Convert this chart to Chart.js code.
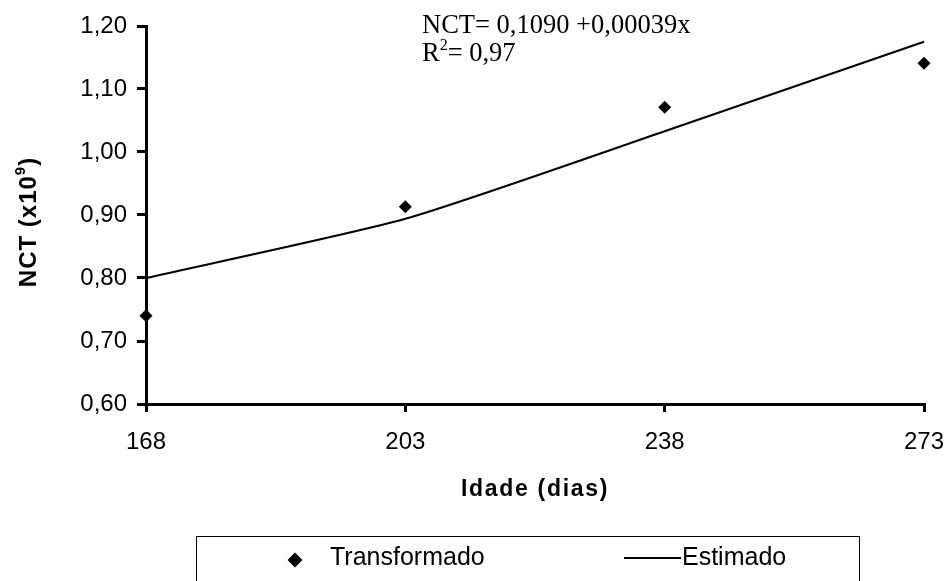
<!DOCTYPE html>
<html>
<head>
<meta charset="utf-8">
<script src="https://cdn.jsdelivr.net/npm/chart.js@4.4.1/dist/chart.umd.min.js"></script>
<style>
  html, body { margin: 0; padding: 0; background: #fff; }
</style>
</head>
<body>
<canvas id="grafico" width="950" height="581"></canvas>
<script>
// dados
var idade = ['168', '203', '238', '273'];
var transformado = [0.74, 0.913, 1.071, 1.141];
var estimado = [0.80, 0.894, 1.033, 1.175];
var yTicks = [0.6, 0.7, 0.8, 0.9, 1.0, 1.1, 1.2];

var sans = "Arial, 'Liberation Sans', sans-serif";
var serif = "'Times New Roman', 'Liberation Serif', serif";

function virgula(v) {
    return Number(v).toFixed(2).replace('.', ',');
}

// textos extras: equação, títulos dos eixos e legenda em caixa
var extras = {
    id: 'extras',
    afterDraw: function (chart) {
        var ctx = chart.ctx;
        ctx.save();
        ctx.fillStyle = '#000';
        ctx.strokeStyle = '#000';

        // equação
        ctx.textAlign = 'left';
        ctx.textBaseline = 'alphabetic';
        ctx.font = '26.5px ' + serif;
        ctx.fillText('NCT= 0,1090 +0,00039x', 422, 33);
        ctx.fillText('R', 422, 61);
        var wR = ctx.measureText('R').width;
        ctx.font = '16px ' + serif;
        ctx.fillText('2', 422 + wR, 50);
        var w2 = ctx.measureText('2').width;
        ctx.font = '26.5px ' + serif;
        ctx.fillText('= 0,97', 422 + wR + w2, 61);

        // título eixo y
        ctx.save();
        ctx.translate(29, 222);
        ctx.rotate(-Math.PI / 2);
        ctx.textBaseline = 'middle';
        ctx.letterSpacing = '1px';
        ctx.font = 'bold 24px ' + sans;
        var a = 'NCT (x10', b = '9', c = ')';
        var wa = ctx.measureText(a).width, wc = ctx.measureText(c).width;
        ctx.font = 'bold 15px ' + sans;
        var wb = ctx.measureText(b).width;
        var x0 = -(wa + wb + wc) / 2;
        ctx.font = 'bold 24px ' + sans;
        ctx.fillText(a, x0, 0);
        ctx.fillText(c, x0 + wa + wb, 0);
        ctx.font = 'bold 15px ' + sans;
        ctx.fillText(b, x0 + wa, -8);
        ctx.restore();

        // título eixo x
        ctx.font = 'bold 23px ' + sans;
        ctx.letterSpacing = '1.7px';
        ctx.textAlign = 'center';
        ctx.textBaseline = 'middle';
        ctx.fillText('Idade (dias)', 535, 490);
        ctx.letterSpacing = '0px';

        // legenda
        ctx.lineWidth = 1;
        ctx.strokeRect(196.5, 536.5, 663, 60);
        Chart.helpers.drawPoint(ctx, { pointStyle: 'rectRot', radius: 7.5, borderWidth: 0 }, 295, 560);
        ctx.textAlign = 'left';
        ctx.font = '25px ' + sans;
        ctx.fillText('Transformado', 330, 558);
        ctx.lineWidth = 2;
        ctx.beginPath();
        ctx.moveTo(624, 558);
        ctx.lineTo(681, 558);
        ctx.stroke();
        ctx.fillText('Estimado', 682, 558);
        ctx.restore();
    }
};

var graph = document.getElementById('grafico');
var myChart = new Chart(graph, {
    type: 'line',
    data: {
        labels: idade,
        datasets: [{
            label: 'Transformado',
            data: transformado,
            showLine: false,
            pointStyle: 'rectRot',
            pointRadius: 6.5,
            pointBackgroundColor: '#000',
            pointBorderWidth: 0,
            clip: false
        },
        {
            label: 'Estimado',
            data: estimado,
            borderColor: '#000',
            borderWidth: 2,
            pointRadius: 0,
            tension: 0.2,
            fill: false,
            clip: false
        }]
    },
    options: {
        responsive: false,
        animation: false,
        events: [],
        layout: { padding: { left: 0, top: 26, right: 26, bottom: 0 } },
        plugins: {
            legend: { display: false },
            tooltip: { enabled: false }
        },
        scales: {
            x: {
                type: 'category',
                offset: false,
                afterFit: function (s) {
                    s.height = 177;
                    s.paddingLeft = 0;
                    s.paddingRight = 0;
                },
                grid: { drawOnChartArea: false, drawTicks: true, tickLength: 8, lineWidth: 3, color: '#000' },
                border: { display: true, color: '#000', width: 3 },
                ticks: { color: '#000', font: { family: sans, size: 24 }, padding: 16, maxRotation: 0 }
            },
            y: {
                min: 0.6,
                max: 1.2,
                afterFit: function (s) {
                    s.width = 146;
                    s.paddingTop = 0;
                    s.paddingBottom = 0;
                },
                afterBuildTicks: function (s) {
                    s.ticks = yTicks.map(function (v) { return { value: v }; });
                },
                grid: { drawOnChartArea: false, drawTicks: true, tickLength: 9, lineWidth: 3, color: '#000' },
                border: { display: true, color: '#000', width: 3 },
                ticks: { color: '#000', font: { family: sans, size: 24 }, padding: 10, callback: virgula }
            }
        }
    },
    plugins: [extras]
});
</script>
</body>
</html>
